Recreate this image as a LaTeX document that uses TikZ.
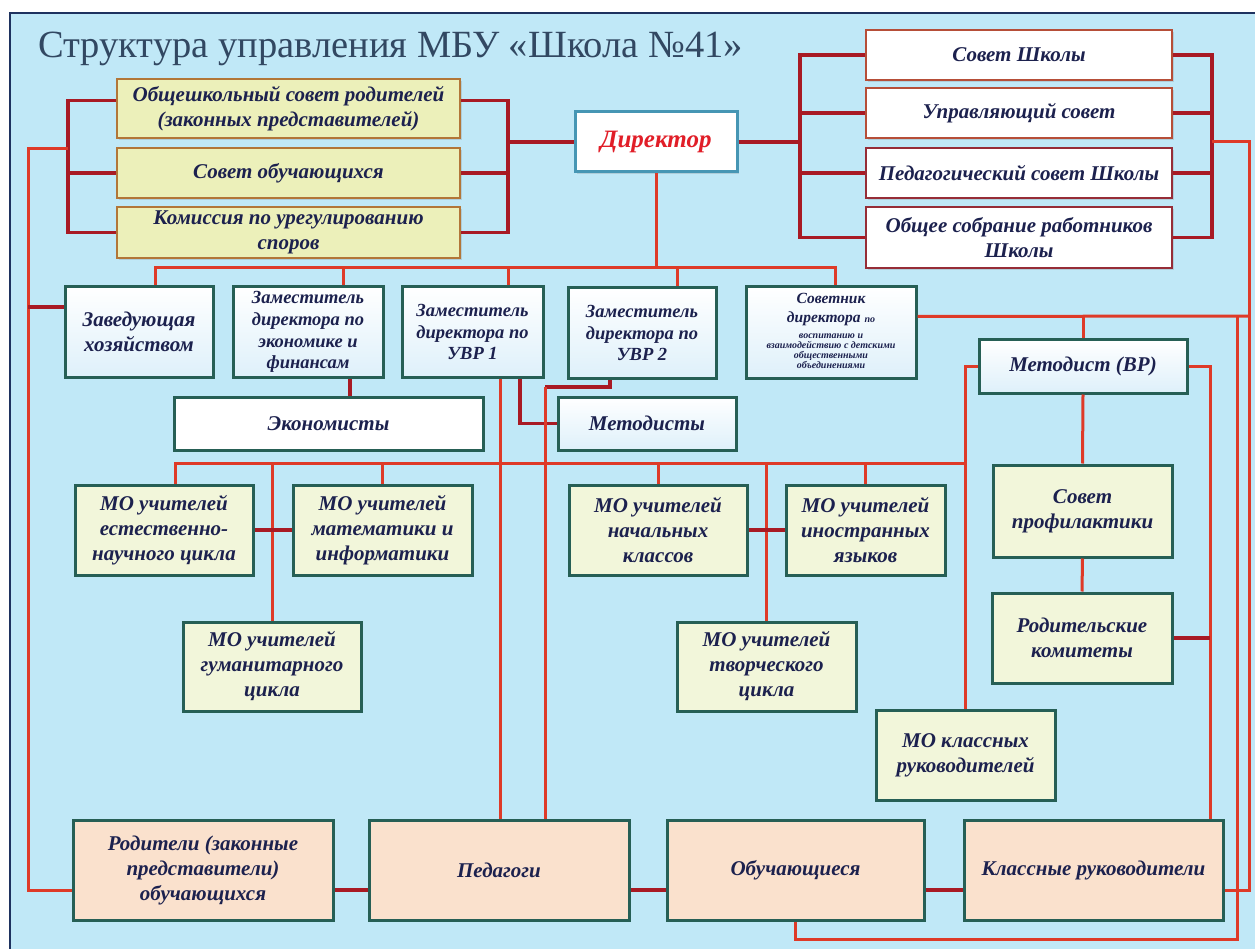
\documentclass[tikz,border=0pt]{standalone}
\usepackage{fontspec}
\setmainfont{Liberation Serif}
\usetikzlibrary{shadows}
\definecolor{sky}{RGB}{192,232,247}
\definecolor{frame}{RGB}{30,50,95}
\definecolor{ink}{RGB}{28,33,78}
\definecolor{headc}{RGB}{50,72,98}
\definecolor{dirred}{RGB}{225,30,40}
\definecolor{wire}{RGB}{222,58,40}
\definecolor{wiredk}{RGB}{168,26,36}
\definecolor{teal}{RGB}{38,95,85}
\definecolor{yel}{RGB}{236,240,186}
\definecolor{yelline}{RGB}{178,118,56}
\definecolor{moyel}{RGB}{242,246,218}
\definecolor{peach}{RGB}{250,225,205}
\definecolor{pale}{RGB}{222,240,250}
\definecolor{rline}{RGB}{182,78,56}
\newcommand{\smalltxt}{\fontsize{10}{9}\selectfont}

\begin{document}
\begin{tikzpicture}[x=1pt,y=-1pt]
        \tikzstyle{box} = [rectangle, draw=teal, line width=3pt, align=center, text=ink, inner sep=1pt,
                font=\fontsize{21}{25}\selectfont\bfseries\itshape,
                drop shadow={shadow xshift=2pt, shadow yshift=-2pt, opacity=.25}]
        \tikzstyle{council} = [box, draw=yelline, fill=yel, line width=2.4pt, minimum width=343, minimum height=50]
        \tikzstyle{board} = [box, draw=rline, fill=white, line width=2.4pt, minimum width=306, minimum height=50]
        \tikzstyle{head} = [box, top color=white, bottom color=pale, minimum width=148, minimum height=90]
        \tikzstyle{deputy} = [head, font=\fontsize{18.5}{21.7}\selectfont\bfseries\itshape]
        \tikzstyle{mo} = [box, fill=moyel, minimum width=178, minimum height=90]
        \tikzstyle{people} = [box, fill=peach, minimum width=259, minimum height=100]
        \tikzstyle{link} = [draw=wire, line width=3pt]
        \tikzstyle{tie} = [draw=wiredk, line width=3.4pt]

        \useasboundingbox (0,0) rectangle (1255,949);
        \clip (0,0) rectangle (1255,949);
        \fill[sky] (10,13) rectangle (1270,965);
        \draw[frame, line width=2.5pt] (10,13) rectangle (1270,965);

        \node[anchor=base west, text=headc, font=\fontsize{38.5}{42}\selectfont, inner sep=0pt] (title) at (38,58)
                {Структура управления МБУ «Школа №41»};

        \node[council, minimum height=59] (obsh) at (288.5,108.5) {Общешкольный совет родителей\\(законных представителей)};
        \node[council] (sovob) at (288.5,173) {Совет обучающихся};
        \node[council, minimum height=51] (komis) at (288.5,232.5) {Комиссия по урегулированию\\споров};

        \node[box, fill=white, draw={rgb,255:red,70;green,150;blue,180}, minimum width=162, minimum height=60,
                text=dirred, font=\fontsize{25}{28}\selectfont\bfseries\itshape] (dir) at (656,142) {Директор};

        \node[board] (sovsh) at (1019,55) {Совет Школы};
        \node[board] (upr) at (1019,113) {Управляющий совет};
        \node[board, draw={rgb,255:red,150;green,45;blue,55}] (ped) at (1019,173) {Педагогический совет Школы};
        \node[board, draw={rgb,255:red,150;green,45;blue,55}, minimum height=61] (sobr) at (1019,237.5) {Общее собрание работников\\Школы};

        \node[head] (zav) at (139,332) {Заведующая\\хозяйством};
        \node[deputy, minimum width=150] (zamef) at (308,332) {Заместитель\\директора по\\экономике и\\финансам};
        \node[deputy, minimum width=141] (zam1) at (472.5,332) {Заместитель\\директора по\\УВР 1};
        \node[deputy] (zam2) at (642,333) {Заместитель\\директора по\\УВР 2};
        \node[head, minimum width=170, minimum height=91, font=\fontsize{15.5}{19}\selectfont\bfseries\itshape] (sovetnik) at (831,332.5)
                {Советник\\директора {\smalltxt по}\\[-3pt]
                 {\smalltxt\begin{tabular}[t]{@{}c@{}}воспитанию и\\взаимодействию с детскими\\общественными\\объединениями\end{tabular}}};

        \node[box, fill=white, minimum width=309, minimum height=53] (econ) at (328.5,423.5) {Экономисты};
        \node[head, minimum width=178, minimum height=53] (metod) at (647,423.5) {Методисты};
        \node[head, minimum width=208, minimum height=53] (metvr) at (1083,366.5) {Методист (ВР)};

        \node[mo] (moen) at (164,530) {МО учителей\\естественно-\\научного цикла};
        \node[mo, minimum width=179] (momat) at (382.5,530) {МО учителей\\математики и\\информатики};
        \node[mo] (monach) at (658,530) {МО учителей\\начальных\\классов};
        \node[mo, minimum width=159] (moin) at (865.5,530) {МО учителей\\иностранных\\языков};
        \node[mo, minimum width=179, minimum height=92] (profil) at (1082.5,511) {Совет\\профилактики};
        \node[mo, minimum height=89] (mogum) at (272,666.5) {МО учителей\\гуманитарного\\цикла};
        \node[mo, minimum width=179, minimum height=89] (motv) at (766.5,666.5) {МО учителей\\творческого\\цикла};
        \node[mo, minimum width=180] (rodkom) at (1082,638) {Родительские\\комитеты};
        \node[mo, minimum width=179] (mokl) at (965.5,755) {МО классных\\руководителей};

        \node[people, minimum width=260] (rod) at (203,870) {Родители (законные\\представители)\\обучающихся};
        \node[people, minimum width=260] (pedag) at (499,870) {Педагоги};
        \node[people, minimum width=257] (obuch) at (795.5,870) {Обучающиеся};
        \node[people] (klruk) at (1093.5,870) {Классные руководители};

        \coordinate (lb) at (68,149);
        \coordinate (lo) at (28,149);
        \coordinate (lr) at (508,142);
        \coordinate (rl) at (800,142);
        \coordinate (rr) at (1212,142);
        \coordinate (re) at (1249,142);
        \coordinate (bus) at (656,268);
        \coordinate (k2) at (545,387);
        \coordinate (mob) at (965.5,463);
        \coordinate (ra) at (1249,316);
        \coordinate (rb) at (1237,316);
        \coordinate (rc) at (1237,939);
        \coordinate (mvr) at (1210,366.5);

        \draw[tie] ([yshift=8pt]obsh.west) -| (lb |- komis.west) -- (komis.west);
        \draw[tie] (sovob.west) -- (sovob.west -| lb);
        \draw[link] (lb) -- (lo) |- ([yshift=-20pt]rod.west);
        \draw[tie] ([yshift=25pt]zav.west) -- ([yshift=25pt]zav.west -| lo);
        \draw[tie] ([yshift=8pt]obsh.east) -| (lr |- komis.east) -- (komis.east);
        \draw[tie] (sovob.east) -- (sovob.east -| lr);
        \draw[tie] (lr) -- (dir.west);

        \draw[tie] (sovsh.west) -| (rl |- sobr.west) -- (sobr.west);
        \draw[tie] (upr.west) -- (upr.west -| rl);
        \draw[tie] (ped.west) -- (ped.west -| rl);
        \draw[tie] (dir.east) -- (rl);
        \draw[tie] (sovsh.east) -| (rr |- sobr.east) -- (sobr.east);
        \draw[tie] (upr.east) -- (upr.east -| rr);
        \draw[tie] (ped.east) -- (ped.east -| rr);
        \draw[link] (rr) -- (re) |- ([yshift=-20pt]klruk.east);

        \draw[link] (dir.south) -- (bus);
        \draw[link] ([xshift=16pt]zav.north) |- (bus);
        \draw[link] ([xshift=35pt]zamef.north) |- (bus);
        \draw[link] ([xshift=35.5pt]zam1.north) |- (bus);
        \draw[link] ([xshift=35pt]zam2.north) |- (bus);
        \draw[link] ([xshift=4pt]sovetnik.north) |- (bus);

        \draw[tie] ([xshift=42pt]zamef.south) -- ([xshift=42pt]zamef.south |- econ.north);
        \draw[tie] ([xshift=47.5pt]zam1.south) |- (metod.west);
        \draw[link] ([xshift=27.5pt]zam1.south) -- ([xshift=27.5pt]zam1.south |- pedag.north);
        \draw[tie] ([xshift=-32pt]zam2.south) |- (k2);
        \draw[link] (k2) -- (k2 |- pedag.north);

        \draw[link] ([xshift=11pt]moen.north) |- (mob);
        \draw[link] (momat.north) -- (momat.north |- mob);
        \draw[link] (monach.north) -- (monach.north |- mob);
        \draw[link] (moin.north) -- (moin.north |- mob);
        \draw[link] (mogum.north) -- (mogum.north |- mob);
        \draw[link] (motv.north) -- (motv.north |- mob);
        \draw[tie] (moen.east) -- (momat.west);
        \draw[tie] (monach.east) -- (moin.west);

        \draw[link] (metvr.west) -| (mokl.north);
        \draw[link] ([yshift=16pt]sovetnik.east) -- (ra);
        \draw[link] (metvr.north) -- (metvr.north |- ra);
        \draw[link] (rb) -- (rc) -| (obuch.south);
        \draw[link] (metvr.east) -- (mvr) -- (mvr |- klruk.north);
        \draw[tie] (rodkom.east) -- (rodkom.east -| mvr);
        \draw[link] (metvr.south) -- (profil.north);
        \draw[link] (profil.south) -- (rodkom.north);

        \draw[tie] ([yshift=-20pt]rod.east) -- ([yshift=-20pt]pedag.west);
        \draw[tie] ([yshift=-20pt]pedag.east) -- ([yshift=-20pt]obuch.west);
        \draw[tie] ([yshift=-20pt]obuch.east) -- ([yshift=-20pt]klruk.west);
\end{tikzpicture}
\end{document}
